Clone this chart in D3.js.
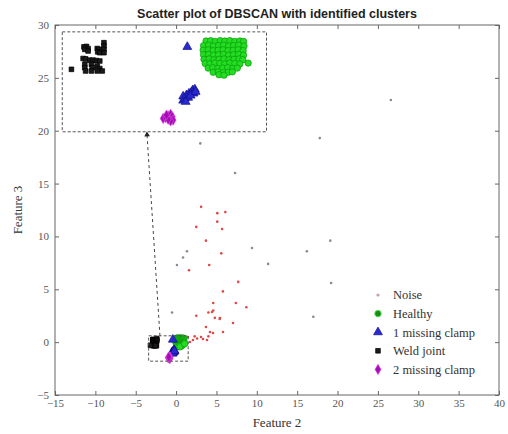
<!DOCTYPE html>
<html><head><meta charset="utf-8">
<script src="https://cdn.jsdelivr.net/npm/d3@7"></script>
<style>body{margin:0;background:#fff}svg{display:block}</style>
</head><body>
<script>
// ---- data (Feature 2, Feature 3) ----
const xTicks = [-15,-10,-5,0,5,10,15,20,25,30,35,40];
const yTicks = [-5,0,5,10,15,20,25,30];
const noiseRed = [[3.1,12.8],[5.1,12.2],[6.1,12.3],[5.1,11.4],[2.5,10.9],[5.7,10.7],[3.7,9.6],[5.6,8.4],[4.1,7.3],[1.6,6.8],[7.7,5.7],[5.8,4.8],[4.6,3.7],[7.4,3.7],[8.7,3.3],[2.5,2.5],[4.0,2.8],[4.6,3.0],[4.8,2.3],[5.4,2.2],[4.45,2.85],[5.44,2.28],[3.7,1.43],[4.2,0.96],[4.57,0.87],[3.09,0.49],[3.33,0.3],[3.83,0.2],[2.09,0.2],[1.72,0.01],[1.47,0.49],[5.81,0.96],[7.05,1.81],[2.6,0.35],[2.3,0.55],[1.2,0.3],[4.0,0.55]];
const noiseGray = [[3.0,18.8],[7.3,16.0],[19.1,9.6],[9.4,8.9],[16.2,8.6],[11.4,7.4],[19.2,5.6],[17.0,2.4],[26.6,22.9],[17.8,19.3],[1.35,8.6],[0.86,8.0],[0.11,7.3],[-0.5,2.8]];
const healthy = [
[0.05,0.38],[0.16,0.39],[0.27,0.37],[0.39,0.39],[0.50,0.38],[0.62,0.39],[0.74,0.37],[0.86,0.38],[0.95,0.37],
[-0.01,0.27],[0.11,0.28],[0.23,0.26],[0.35,0.27],[0.47,0.28],[0.59,0.26],[0.71,0.27],[0.83,0.28],[0.96,0.26],
[-0.02,0.16],[0.10,0.17],[0.22,0.15],[0.34,0.16],[0.46,0.17],[0.58,0.15],[0.70,0.16],[0.82,0.17],[0.94,0.15],
[-0.01,0.05],[0.11,0.06],[0.23,0.04],[0.35,0.05],[0.47,0.06],[0.59,0.04],[0.71,0.05],[0.83,0.06],[0.95,0.04],
[0.00,-0.06],[0.12,-0.05],[0.24,-0.07],[0.36,-0.06],[0.48,-0.05],[0.60,-0.07],[0.72,-0.06],[0.84,-0.05],[0.93,-0.07],
[0.03,-0.16],[0.14,-0.17],[0.26,-0.15],[0.38,-0.16],[0.50,-0.17],[0.62,-0.15],[0.74,-0.16],[0.86,-0.17],
[0.10,-0.27],[0.21,-0.26],[0.33,-0.28],[0.45,-0.27],[0.57,-0.26],[0.69,-0.28],[0.80,-0.27],
[0.22,-0.37],[0.34,-0.36],[0.46,-0.38],[0.58,-0.37],[0.68,-0.36],
[0.36,-0.43],[0.48,-0.44],
[1.06,-0.15]];
const missing1 = [[-0.50,-1.05],[-0.46,-1.00],[-0.50,-0.95],[-0.42,-0.92],[-0.38,-0.98],[-0.36,-0.88],[-0.30,-0.85],[-0.27,-0.80],[-0.22,-0.78],[-0.25,-0.88],[-0.32,-0.93],[-0.44,-1.08],[-0.20,-0.84],[-0.40,0.24]];
const weld = [[-2.88,0.24],[-2.82,0.25],[-2.78,0.20],[-2.86,0.18],[-2.78,0.14],[-2.56,0.20],[-2.52,0.18],[-2.55,0.12],[-2.50,0.10],[-2.40,0.34],[-2.40,0.26],[-2.40,0.18],[-2.40,0.10],[-2.90,-0.04],[-2.84,-0.05],[-2.74,-0.08],[-2.66,-0.08],[-2.58,-0.09],[-2.50,-0.10],[-2.86,-0.18],[-2.86,-0.26],[-2.84,-0.34],[-2.70,-0.18],[-2.68,-0.26],[-2.70,-0.34],[-2.56,-0.22],[-2.50,-0.28],[-2.44,-0.34],[-2.56,-0.34],[-3.18,-0.30]];
const missing2 = [[-0.98,-1.48],[-0.92,-1.46],[-0.86,-1.42],[-0.80,-1.38],[-0.76,-1.44],[-0.74,-1.52],[-0.80,-1.54],[-0.86,-1.50],[-0.90,-1.40]];
const zoomX = [-3.4,1.5];
const zoomY = [-1.8,0.6];
const insetX = [-14.1,11.2];
const insetY = [19.9,29.35];
const legendLabels = ["Noise","Healthy","1 missing clamp","Weld joint","2 missing clamp"];

// ---- layout ----
const W=508,H=434, L=55,R=499,T=25,B=395;
const x = d3.scaleLinear([-15,40],[L,R]);
const y = d3.scaleLinear([-5,30],[B,T]);
const svg = d3.select("body").append("svg").attr("width",W).attr("height",H);
const serif = "'Liberation Serif','Times New Roman',serif";

svg.append("defs").append("clipPath").attr("id","clip").append("rect")
  .attr("x",L).attr("y",T).attr("width",R-L).attr("height",B-T);

// title
svg.append("text").attr("x",277).attr("y",18).attr("text-anchor","middle")
  .attr("font-family","'Liberation Sans',Arial,sans-serif").attr("font-weight","bold")
  .attr("font-size",12.5).attr("fill","#222").text("Scatter plot of DBSCAN with identified clusters");

// axes
function styleAxis(g){g.select(".domain").remove();g.selectAll("line").attr("stroke","#666");
  g.selectAll("text").attr("font-family",serif).attr("font-size",11).attr("fill","#555");}
svg.append("g").attr("transform",`translate(0,${B})`).call(d3.axisBottom(x).tickValues(xTicks).tickSize(-4).tickPadding(4)).call(styleAxis);
svg.append("g").attr("transform",`translate(0,${T})`).call(d3.axisTop(x).tickValues(xTicks).tickSize(-4).tickFormat("")).call(styleAxis);
svg.append("g").attr("transform",`translate(${L},0)`).call(d3.axisLeft(y).tickValues(yTicks).tickSize(-4).tickPadding(6)).call(styleAxis);
svg.append("g").attr("transform",`translate(${R},0)`).call(d3.axisRight(y).tickValues(yTicks).tickSize(-4).tickFormat("")).call(styleAxis);
svg.append("rect").attr("x",L).attr("y",T).attr("width",R-L).attr("height",B-T)
  .attr("fill","none").attr("stroke","#666").attr("stroke-width",1);

// labels
svg.append("text").attr("x",277).attr("y",427).attr("text-anchor","middle")
  .attr("font-family",serif).attr("font-size",13).attr("fill","#333").text("Feature 2");
svg.append("text").attr("transform",`translate(22,${(T+B)/2}) rotate(-90)`).attr("text-anchor","middle")
  .attr("font-family",serif).attr("font-size",13).attr("fill","#333").text("Feature 3");

// markers
const styles = {
  noiseRed:{c:"#e04848"}, noiseGray:{c:"#8a8a8a"},
  healthy:{fill:"#22dd22",stroke:"#0c9a0c"},
  missing1:{fill:"#2a2ad0",stroke:"#10108a"},
  weld:{fill:"#1a1a1a",stroke:"#000"},
  missing2:{fill:"#a010b0",stroke:"#e040e8"}
};
function drawSet(g, data, kind, sx, sy){
  const s = styles[kind];
  const sel = g.selectAll(null).data(data).enter();
  if(kind.startsWith("noise")){
    sel.append("circle").attr("cx",d=>sx(d[0])).attr("cy",d=>sy(d[1])).attr("r",1.3).attr("fill",s.c);
  } else if(kind==="healthy"){
    sel.append("circle").attr("cx",d=>sx(d[0])).attr("cy",d=>sy(d[1])).attr("r",3.2)
      .attr("fill",s.fill).attr("stroke",s.stroke).attr("stroke-width",0.7);
  } else {
    const t = kind==="missing1"?d3.symbolTriangle:kind==="weld"?d3.symbolSquare:d3.symbolDiamond;
    const sz = kind==="missing1"?34:kind==="weld"?22:30;
    sel.append("path").attr("d",d3.symbol(t,sz)).attr("transform",d=>`translate(${sx(d[0])},${sy(d[1])})`)
      .attr("fill",s.fill).attr("stroke",s.stroke).attr("stroke-width",0.7);
  }
}
const main = svg.append("g").attr("clip-path","url(#clip)");
drawSet(main,noiseGray,"noiseGray",x,y);
drawSet(main,noiseRed,"noiseRed",x,y);
drawSet(main,healthy,"healthy",x,y);
drawSet(main,missing1,"missing1",x,y);
drawSet(main,weld,"weld",x,y);
drawSet(main,missing2,"missing2",x,y);

// zoom rectangle in main
svg.append("rect").attr("x",x(zoomX[0])).attr("y",y(zoomY[1])).attr("width",x(zoomX[1])-x(zoomX[0]))
  .attr("height",y(zoomY[0])-y(zoomY[1])).attr("fill","none").attr("stroke","#555").attr("stroke-dasharray","3,2");

// inset
const ix0=x(insetX[0]), ix1=x(insetX[1]), iy0=y(insetY[1]), iy1=y(insetY[0]);
svg.append("rect").attr("x",ix0).attr("y",iy0).attr("width",ix1-ix0).attr("height",iy1-iy0)
  .attr("fill","#fff").attr("stroke","#555").attr("stroke-dasharray","3,2");
const ix = d3.scaleLinear(zoomX,[ix0,ix1]);
const iy = d3.scaleLinear(zoomY,[iy1,iy0]);
svg.append("clipPath").attr("id","iclip").append("rect").attr("x",ix0).attr("y",iy0).attr("width",ix1-ix0).attr("height",iy1-iy0);
const inset = svg.append("g").attr("clip-path","url(#iclip)");
drawSet(inset,healthy,"healthy",ix,iy);
drawSet(inset,missing1,"missing1",ix,iy);
drawSet(inset,weld,"weld",ix,iy);
drawSet(inset,missing2,"missing2",ix,iy);

// connector
const cx0=x(-2.0), cy0=y(zoomY[1]), cx1=x(-3.6), cy1=y(insetY[0])+3;
svg.append("line").attr("x1",cx0).attr("y1",cy0).attr("x2",cx1).attr("y2",cy1)
  .attr("stroke","#444").attr("stroke-dasharray","3,3");
const ang = Math.atan2(cy1-cy0,cx1-cx0)*180/Math.PI+90;
svg.append("path").attr("d",d3.symbol(d3.symbolTriangle,14)).attr("fill","#222")
  .attr("transform",`translate(${cx1},${cy1}) rotate(${ang})`);

// legend
const lg = svg.append("g");
const kinds = ["noise","healthy","missing1","weld","missing2"];
legendLabels.forEach((lab,i)=>{
  const yy = 295 + i*18.6, mx = 378;
  const k = kinds[i];
  if(k==="noise") lg.append("circle").attr("cx",mx).attr("cy",yy).attr("r",1.6).attr("fill","#c8a0a8");
  else if(k==="healthy") lg.append("circle").attr("cx",mx).attr("cy",yy).attr("r",3.2).attr("fill","#1a8a1a").attr("stroke","#44dd44").attr("stroke-width",1);
  else {
    const t = k==="missing1"?d3.symbolTriangle:k==="weld"?d3.symbolSquare:d3.symbolDiamond;
    const s = styles[k];
    lg.append("path").attr("d",d3.symbol(t,k==="missing1"?34:k==="weld"?22:30)).attr("transform",`translate(${mx},${yy})`)
      .attr("fill",s.fill).attr("stroke",s.stroke).attr("stroke-width",0.7);
  }
  lg.append("text").attr("x",393).attr("y",yy).attr("dy","0.35em").attr("font-family",serif)
    .attr("font-size",12.5).attr("fill","#333").text(lab);
});
</script>
</body></html>
